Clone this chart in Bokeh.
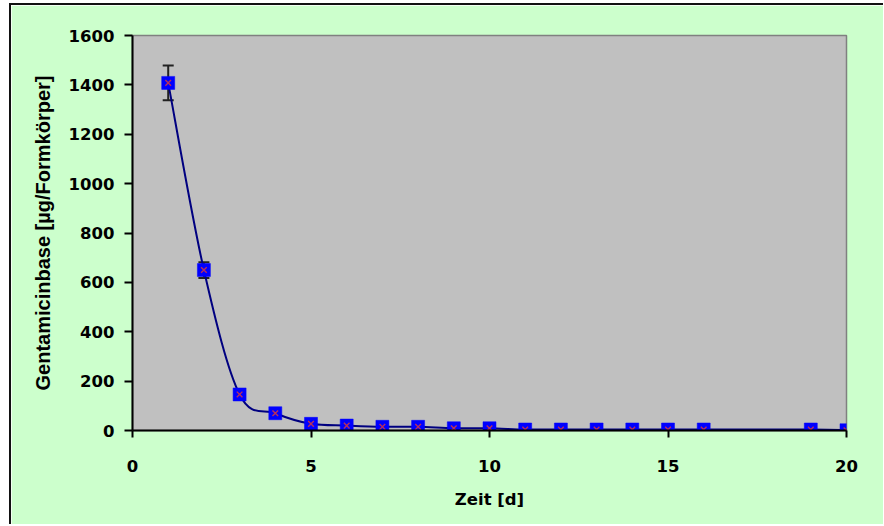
from bokeh.plotting import figure
from bokeh.models import FixedTicker, ColumnDataSource, Whisker
from bokeh.embed import file_html
from bokeh.resources import INLINE

# Data
days = [1, 2, 3, 4, 5, 6, 7, 8, 9, 10, 11, 12, 13, 14, 15, 16, 19, 20]
gentamicin = [1408, 650, 146, 70, 27, 20, 15, 15, 9, 9, 4, 4, 4, 4, 4, 4, 4, 1]
err_days = [1, 2]
err_mean = [1408, 650]
err_sd = [70, 32]

x_ticks = [0, 5, 10, 15, 20]
y_ticks = [0, 200, 400, 600, 800, 1000, 1200, 1400, 1600]

TICK_FONT = "DejaVu Sans"
TITLE_FONT = "Liberation Sans"

p = figure(
    frame_width=714, frame_height=395,
    min_border_left=121, min_border_right=37, min_border_top=30, min_border_bottom=94,
    x_range=(0, 20), y_range=(0, 1600),
    output_backend="svg", toolbar_location=None,
    background_fill_color="#c0c0c0", border_fill_color="#ccffcc",
)
p.margin = (3, 0, 0, 9)
p.styles = {"border-left": "2px solid #111111", "border-top": "2px solid #111111"}
p.outline_line_color = "#808080"
p.outline_line_width = 1.5
p.grid.visible = False

for ax in (p.xaxis[0], p.yaxis[0]):
    ax.axis_line_color = "black"
    ax.axis_line_width = 2
    ax.major_tick_line_color = "black"
    ax.major_tick_line_width = 2
    ax.major_tick_in = 0
    ax.minor_tick_line_color = None
    ax.major_label_text_font = TICK_FONT
    ax.major_label_text_font_style = "bold"
    ax.major_label_text_font_size = "16.5px"
    ax.major_label_text_color = "black"
    ax.axis_label_text_color = "black"
    ax.axis_label_text_font_style = "bold"

p.xaxis.ticker = FixedTicker(ticks=x_ticks)
p.yaxis.ticker = FixedTicker(ticks=y_ticks)
p.xaxis.major_tick_out = 7
p.yaxis.major_tick_out = 8
p.xaxis.major_label_standoff = 22
p.yaxis.major_label_standoff = 10

p.xaxis.axis_label = "Zeit [d]"
p.xaxis.axis_label_text_font = TICK_FONT
p.xaxis.axis_label_text_font_size = "16.5px"
p.xaxis.axis_label_standoff = 15

p.yaxis.axis_label = "Gentamicinbase [µg/Formkörper]"
p.yaxis.axis_label_text_font = TITLE_FONT
p.yaxis.axis_label_text_font_size = "20px"
p.yaxis.axis_label_standoff = 12

# Smoothed line (Catmull-Rom -> cubic Bezier control points derived from data)
n = len(days)
x0, y0, x1, y1, cx0, cy0, cx1, cy1 = [], [], [], [], [], [], [], []
for i in range(n - 1):
    xm, ym = (days[i - 1], gentamicin[i - 1]) if i > 0 else (days[i], gentamicin[i])
    xa, ya = days[i], gentamicin[i]
    xb, yb = days[i + 1], gentamicin[i + 1]
    xp, yp = (days[i + 2], gentamicin[i + 2]) if i + 2 < n else (xb, yb)
    x0.append(xa); y0.append(ya); x1.append(xb); y1.append(yb)
    cx0.append(xa + (xb - xm) / 6); cy0.append(ya + (yb - ym) / 6)
    cx1.append(xb - (xp - xa) / 6); cy1.append(yb - (yp - ya) / 6)
p.bezier(x0=x0, y0=y0, x1=x1, y1=y1, cx0=cx0, cy0=cy0, cx1=cx1, cy1=cy1,
         line_color="#000080", line_width=2)

# Error bars
esrc = ColumnDataSource(dict(
    x=err_days,
    upper=[m + s for m, s in zip(err_mean, err_sd)],
    lower=[m - s for m, s in zip(err_mean, err_sd)],
))
w = Whisker(base="x", upper="upper", lower="lower", source=esrc,
            line_color="#222222", line_width=2)
for head in (w.upper_head, w.lower_head):
    head.size = 11
    head.line_color = "#222222"
    head.line_width = 2
p.add_layout(w)

# Markers
p.scatter(days, gentamicin, marker="square", size=13, fill_color="#0000ff",
          line_color="#0000ff", line_width=0.5)
p.scatter(days, gentamicin, marker="x", size=8, line_color="#b8305a", line_width=1.4)

open("out.html", "w").write(file_html(p, INLINE))
